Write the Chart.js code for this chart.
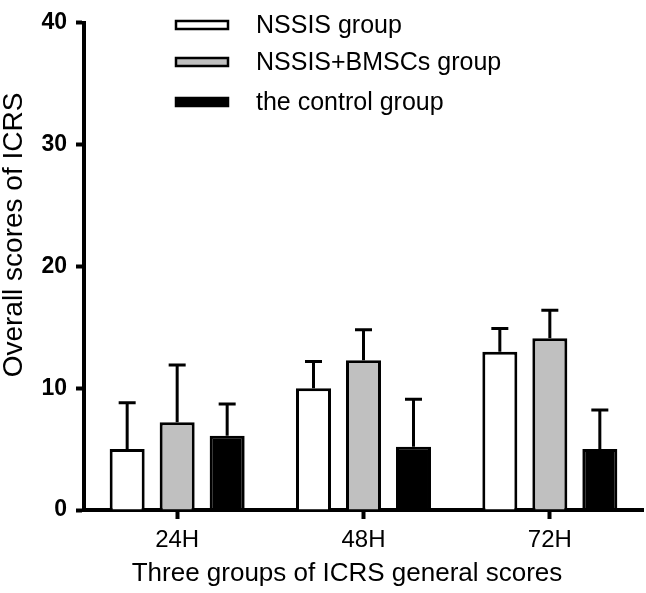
<!DOCTYPE html>
<html>
<head>
<meta charset="utf-8">
<script src="https://cdn.jsdelivr.net/npm/chart.js@4.4.1/dist/chart.umd.min.js"></script>
<style>
  html, body { margin: 0; padding: 0; background: #fff; }
  #wrap { width: 646px; height: 593px; }
</style>
</head>
<body>
<div id="wrap"><canvas id="c" width="646" height="593"></canvas></div>
<script>
const categories = ['24H', '48H', '72H'];
const seriesNames = ['NSSIS group', 'NSSIS+BMSCs group', 'the control group'];
const nssisMean = [5.0, 10.0, 13.0];
const nssisSD = [3.8, 2.2, 1.9];
const bmscMean = [7.2, 12.3, 14.1];
const bmscSD = [4.7, 2.5, 2.3];
const controlMean = [6.1, 5.2, 5.0];
const controlSD = [2.6, 3.9, 3.2];
const yTicks = [0, 10, 20, 30, 40];
const xTitle = 'Three groups of ICRS general scores';
const yTitle = 'Overall scores of ICRS';
const fills = ['#ffffff', '#c0c0c0', '#000000'];

const FONT = "'Liberation Sans', Arial, sans-serif";

const errorBars = {
  id: 'errorBars',
  afterDatasetsDraw(chart) {
    const ctx = chart.ctx;
    const y = chart.scales.y;
    ctx.save();
    ctx.strokeStyle = '#000';
    ctx.lineWidth = 3;
    ctx.lineCap = 'butt';
    chart.data.datasets.forEach((ds, di) => {
      const meta = chart.getDatasetMeta(di);
      meta.data.forEach((bar, i) => {
        const top = y.getPixelForValue(ds.data[i] + ds.sd[i]);
        const base = y.getPixelForValue(ds.data[i]);
        ctx.beginPath();
        ctx.moveTo(bar.x, base);
        ctx.lineTo(bar.x, top);
        ctx.moveTo(bar.x - 8.5, top);
        ctx.lineTo(bar.x + 8.5, top);
        ctx.stroke();
      });
    });
    ctx.restore();
  }
};

const customText = {
  id: 'customText',
  afterDraw(chart) {
    const ctx = chart.ctx;
    ctx.save();
    const ys = [25, 62, 102];
    chart.data.datasets.forEach((ds, i) => {
      const cy = ys[i];
      ctx.fillStyle = ds.backgroundColor;
      ctx.strokeStyle = '#000';
      ctx.lineWidth = 2.5;
      ctx.fillRect(176, cy - 4, 52, 8);
      ctx.strokeRect(176, cy - 4, 52, 8);
      ctx.fillStyle = '#000';
      ctx.font = '25px ' + FONT;
      ctx.textBaseline = 'middle';
      ctx.textAlign = 'left';
      ctx.fillText(ds.label, 256, cy + 1);
    });
    // axis titles
    ctx.fillStyle = '#000';
    ctx.textAlign = 'center';
    ctx.textBaseline = 'middle';
    ctx.font = '26px ' + FONT;
    ctx.fillText(xTitle, 347, 574);
    ctx.translate(14, 235);
    ctx.rotate(-Math.PI / 2);
    ctx.font = '28px ' + FONT;
    ctx.fillText(yTitle, 0, 0);
    ctx.restore();
  }
};

const datasets = [nssisMean, bmscMean, controlMean].map((d, i) => ({
  label: seriesNames[i],
  data: d,
  sd: [nssisSD, bmscSD, controlSD][i],
  backgroundColor: fills[i],
  borderColor: '#000',
  borderWidth: 3,
  borderSkipped: 'bottom',
  barPercentage: 0.7,
  categoryPercentage: 0.805
}));

new Chart(document.getElementById('c'), {
  type: 'bar',
  data: { labels: categories, datasets },
  options: {
    responsive: false,
    animation: false,
    layout: { padding: { top: 15, right: 3, left: 0, bottom: 0 } },
    plugins: { legend: { display: false }, tooltip: { enabled: false } },
    scales: {
      x: {
        afterFit(s) { s.height = 83; },
        grid: { display: true, drawOnChartArea: false, offset: false, tickLength: 9, tickWidth: 4, tickColor: '#000' },
        border: { display: true, color: '#000', width: 4 },
        ticks: { color: '#000', font: { family: FONT, size: 24 }, padding: 7 },
        title: { display: false }
      },
      y: {
        min: 0, max: 40,
        afterFit(s) { s.width = 84; },
        afterBuildTicks(s) { s.ticks = yTicks.map(v => ({ value: v })); },
        grid: { display: true, drawOnChartArea: false, tickLength: 8, tickWidth: 4, tickColor: '#000' },
        border: { display: true, color: '#000', width: 4 },
        ticks: { color: '#000', font: { family: FONT, size: 23, weight: 'bold' }, padding: 9 },
        title: { display: false }
      }
    }
  },
  plugins: [errorBars, customText]
});
</script>
</body>
</html>
